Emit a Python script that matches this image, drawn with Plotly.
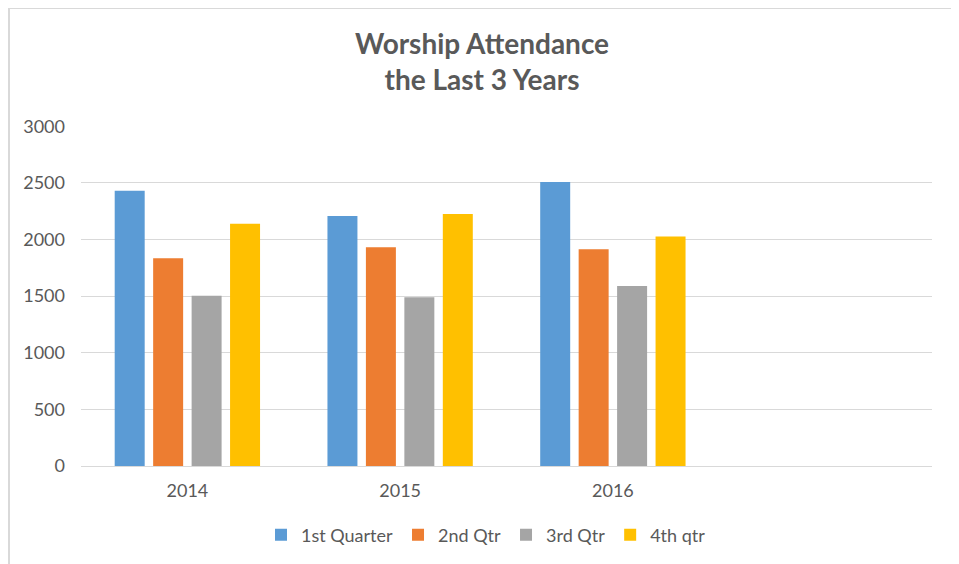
import plotly.graph_objects as go

years = ["2014", "2015", "2016"]
series_names = ["1st Quarter", "2nd Qtr", "3rd Qtr", "4th qtr"]
q1 = [2432, 2208, 2509]
q2 = [1835, 1932, 1914]
q3 = [1504, 1490, 1590]
q4 = [2140, 2226, 2026]
colors = ["#5B9BD5", "#ED7D31", "#A5A5A5", "#FFC000"]
y_ticks = [0, 500, 1000, 1500, 2000, 2500, 3000]

W, H = 951, 556  # page body has an 8px margin

fig = go.Figure()
for name, vals, col in zip(series_names, [q1, q2, q3, q4], colors):
    fig.add_trace(go.Bar(x=years, y=vals, name=name, marker_color=col,
                         marker_line_width=0))

font_family = "Lato, 'Open Sans', sans-serif"
fig.update_layout(
    width=W, height=H,
    margin=dict(l=73, r=27, t=118, b=98),
    paper_bgcolor="white", plot_bgcolor="white",
    barmode="group", bargap=0.277, bargroupgap=0.22,
    title=dict(text="<b>Worship Attendance<br>the Last 3 Years</b>",
               x=474/W, xref="container", xanchor="center",
               y=1 - 46/H, yref="container", yanchor="middle",
               font=dict(family=font_family, size=28, color="#595959")),
    font=dict(family=font_family, color="#595959", size=18),
    showlegend=True,
    legend=dict(orientation="h", x=478/W, xref="container", xanchor="center",
                y=1 - 527/H, yref="container", yanchor="middle",
                font=dict(size=18, color="#595959"), traceorder="normal"),
    xaxis=dict(type="category", categoryorder="array", categoryarray=years,
               range=[-0.5, 3.5], showgrid=False, showline=False, ticks="",
               ticklabelstandoff=12,
               tickfont=dict(size=18, color="#595959")),
    yaxis=dict(range=[0, 3003], tickvals=y_ticks, showgrid=True,
               gridcolor="#D9D9D9", gridwidth=1, zeroline=True,
               zerolinecolor="#D9D9D9", zerolinewidth=1, ticks="",
               ticklabelstandoff=15,
               tickfont=dict(size=18, color="#595959")),
)
fig.add_shape(type="rect", xref="paper", yref="paper",
              x0=(1-73)/851, x1=(948-73)/851, y0=(458-570)/340, y1=(458-0)/340,
              line=dict(color="#D9D9D9", width=2), fillcolor="rgba(0,0,0,0)",
              layer="below")

fig.write_html("out.html")
